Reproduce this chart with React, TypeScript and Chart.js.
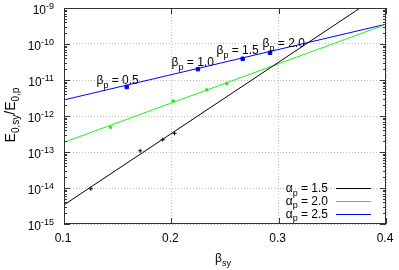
import React, { useEffect, useRef } from "react";
import { Chart, registerables } from "chart.js";

Chart.register(...registerables);

// ---- data ----
const fitX = [0.1, 0.4];
const fitA15 = [3.4e-15, 3.0e-9];
const fitA20 = [1.86e-13, 3.5e-10];
const fitA25 = [2.8e-12, 3.55e-10];

const ptsA15X = [0.125, 0.171, 0.192, 0.203];
const ptsA15Y = [0.95e-14, 1.08e-13, 2.2e-13, 3.3e-13];
const ptsA20X = [0.1435, 0.2017, 0.233, 0.2516];
const ptsA20Y = [4.9e-13, 2.6e-12, 5.3e-12, 7.9e-12];
const ptsA25X = [0.1584, 0.2248, 0.2665, 0.292];
const ptsA25Y = [6.4e-12, 2.0e-11, 3.9e-11, 5.7e-11];

const betaLabels = ["0.5", "1.0", "1.5", "2.0"];
const betaLabelX = [0.1303, 0.2002, 0.2421, 0.285];
const betaLabelY = [1.0e-11, 3.16e-11, 6.8e-11, 1.07e-10];

const alphaLabels = ["1.5", "2.0", "2.5"];
const seriesColors = ["#000000", "#22ee22", "#0000ff"];

const xTicks = [0.1, 0.2, 0.3, 0.4];
const xTickLabels = ["0.1", "0.2", "0.3", "0.4"];
const yExponents = [-15, -14, -13, -12, -11, -10, -9];

const FONT = "'Liberation Sans', Arial, Helvetica, sans-serif";

type Seg = { t: string; s?: "sub" | "sup" };

function segFont(seg: Seg, size: number) {
  const sz = seg.s ? Math.round(size * 0.72) : size;
  return `${sz}px ${FONT}`;
}

function richWidth(ctx: CanvasRenderingContext2D, segs: Seg[], size: number) {
  let w = 0;
  for (const s of segs) {
    ctx.font = segFont(s, size);
    w += ctx.measureText(s.t).width;
  }
  return w;
}

function drawRich(
  ctx: CanvasRenderingContext2D,
  segs: Seg[],
  x: number,
  y: number,
  size: number,
  align: "left" | "right" | "center"
) {
  const total = richWidth(ctx, segs, size);
  let cx = align === "left" ? x : align === "right" ? x - total : x - total / 2;
  ctx.textAlign = "left";
  ctx.textBaseline = "alphabetic";
  for (const s of segs) {
    ctx.font = segFont(s, size);
    const dy = s.s === "sub" ? size * 0.3 : s.s === "sup" ? -size * 0.38 : 0;
    ctx.fillText(s.t, cx, y + dy);
    cx += ctx.measureText(s.t).width;
  }
}

const decorPlugin = {
  id: "decor",
  afterDatasetsDraw(chart: any) {
    const ctx: CanvasRenderingContext2D = chart.ctx;
    const { left, right, top, bottom } = chart.chartArea;
    const xs = chart.scales.x;
    const ys = chart.scales.y;
    ctx.save();
    // frame
    ctx.strokeStyle = "#333333";
    ctx.lineWidth = 1;
    ctx.strokeRect(left + 0.5, top + 0.5, right - left - 1, bottom - top - 1);

    // y ticks (major + minor)
    ctx.beginPath();
    for (let i = 0; i < yExponents.length; i++) {
      const e = yExponents[i];
      const py = Math.round(ys.getPixelForValue(Math.pow(10, e))) + 0.5;
      ctx.moveTo(left, py);
      ctx.lineTo(left + 6, py);
      ctx.moveTo(right, py);
      ctx.lineTo(right - 6, py);
      if (i < yExponents.length - 1) {
        for (let m = 2; m <= 9; m++) {
          const my = Math.round(ys.getPixelForValue(m * Math.pow(10, e))) + 0.5;
          ctx.moveTo(left, my);
          ctx.lineTo(left + 3, my);
          ctx.moveTo(right, my);
          ctx.lineTo(right - 3, my);
        }
      }
    }
    for (const v of xTicks) {
      const px = Math.round(xs.getPixelForValue(v)) + 0.5;
      ctx.moveTo(px, bottom);
      ctx.lineTo(px, bottom - 6);
      ctx.moveTo(px, top);
      ctx.lineTo(px, top + 6);
    }
    ctx.stroke();

    ctx.fillStyle = "#000000";
    // y tick labels
    for (const e of yExponents) {
      const py = ys.getPixelForValue(Math.pow(10, e));
      drawRich(ctx, [{ t: "10" }, { t: String(e), s: "sup" }], left - 10, py + 5.5, 12, "right");
    }
    // x tick labels
    for (let i = 0; i < xTicks.length; i++) {
      const px = xs.getPixelForValue(xTicks[i]);
      drawRich(ctx, [{ t: xTickLabels[i] }], px - 1, bottom + 18, 12, "center");
    }
    // x title
    drawRich(ctx, [{ t: "β" }, { t: "sy", s: "sub" }], (left + right) / 2 - 2, bottom + 38, 12, "center");
    // y title
    ctx.save();
    ctx.translate(15, 115);
    ctx.rotate(-Math.PI / 2);
    drawRich(
      ctx,
      [{ t: "E" }, { t: "0,sy", s: "sub" }, { t: "/E" }, { t: "0,p", s: "sub" }],
      0,
      0,
      14,
      "center"
    );
    ctx.restore();

    // beta labels
    for (let i = 0; i < betaLabels.length; i++) {
      const px = xs.getPixelForValue(betaLabelX[i]);
      const py = ys.getPixelForValue(betaLabelY[i]);
      drawRich(ctx, [{ t: "β" }, { t: "p", s: "sub" }, { t: " = " + betaLabels[i] }], px, py + 4, 12, "left");
    }

    // legend
    const legTextRight = right - 58;
    const legLineX0 = right - 50;
    const legLineX1 = right - 15;
    const legY0 = bottom - 36;
    for (let i = 0; i < alphaLabels.length; i++) {
      const ly = legY0 + i * 12.8;
      ctx.fillStyle = "#000000";
      drawRich(ctx, [{ t: "α" }, { t: "p", s: "sub" }, { t: " = " + alphaLabels[i] }], legTextRight, ly + 4, 12, "right");
      ctx.strokeStyle = seriesColors[i];
      ctx.beginPath();
      ctx.moveTo(legLineX0, Math.round(ly) + 0.5);
      ctx.lineTo(legLineX1, Math.round(ly) + 0.5);
      ctx.stroke();
    }
    ctx.restore();
  },
};

function pairs(xs: number[], ys: number[]) {
  return xs.map((x, i) => ({ x, y: ys[i] }));
}

export default function App() {
  const ref = useRef<HTMLCanvasElement | null>(null);
  useEffect(() => {
    if (!ref.current) return;
    const fits = [fitA15, fitA20, fitA25];
    const ptsX = [ptsA15X, ptsA20X, ptsA25X];
    const ptsY = [ptsA15Y, ptsA20Y, ptsA25Y];
    const styles: any[] = ["cross", "rect", "rect"];
    const radii = [2, 1.6, 2.4];
    const datasets: any[] = [];
    for (let i = 0; i < 3; i++) {
      datasets.push({
        label: "fit" + i,
        data: pairs(fitX, fits[i]),
        borderColor: seriesColors[i],
        borderWidth: 1,
        pointRadius: 0,
        showLine: true,
        fill: false,
      });
    }
    for (let i = 0; i < 3; i++) {
      datasets.push({
        label: "pts" + i,
        data: pairs(ptsX[i], ptsY[i]),
        borderColor: seriesColors[i],
        backgroundColor: seriesColors[i],
        borderWidth: 1,
        pointStyle: styles[i],
        pointRadius: radii[i],
        showLine: false,
      });
    }
    const chart = new Chart(ref.current, {
      type: "line",
      data: { datasets },
      plugins: [decorPlugin],
      options: {
        responsive: false,
        animation: false,
        devicePixelRatio: 1,
        layout: { padding: { top: 8, right: 13, left: 0, bottom: 0 } },
        plugins: { legend: { display: false }, tooltip: { enabled: false } },
        scales: {
          x: {
            type: "linear",
            min: 0.1,
            max: 0.4,
            ticks: { display: false },
            grid: { color: "#c0c0c0", drawTicks: false, tickLength: 0, lineWidth: 1 },
            border: { display: false, dash: [1, 2] },
            afterBuildTicks: (s: any) => {
              s.ticks = xTicks.map((v) => ({ value: v }));
            },
            afterFit: (s: any) => {
              s.height = 46;
            },
          },
          y: {
            type: "logarithmic",
            min: 1e-15,
            max: 1e-9,
            ticks: { display: false },
            grid: { color: "#c0c0c0", drawTicks: false, tickLength: 0, lineWidth: 1 },
            border: { display: false, dash: [1, 2] },
            afterBuildTicks: (s: any) => {
              s.ticks = yExponents.map((e) => ({ value: Math.pow(10, e) }));
            },
            afterFit: (s: any) => {
              s.width = 64;
            },
          },
        },
      } as any,
    });
    return () => chart.destroy();
  }, []);
  return (
    <div style={{ position: "fixed", left: 0, top: 0, width: 399, height: 270, background: "#fff" }}>
      <canvas ref={ref} width={399} height={270} style={{ width: 399, height: 270 }} />
    </div>
  );
}
